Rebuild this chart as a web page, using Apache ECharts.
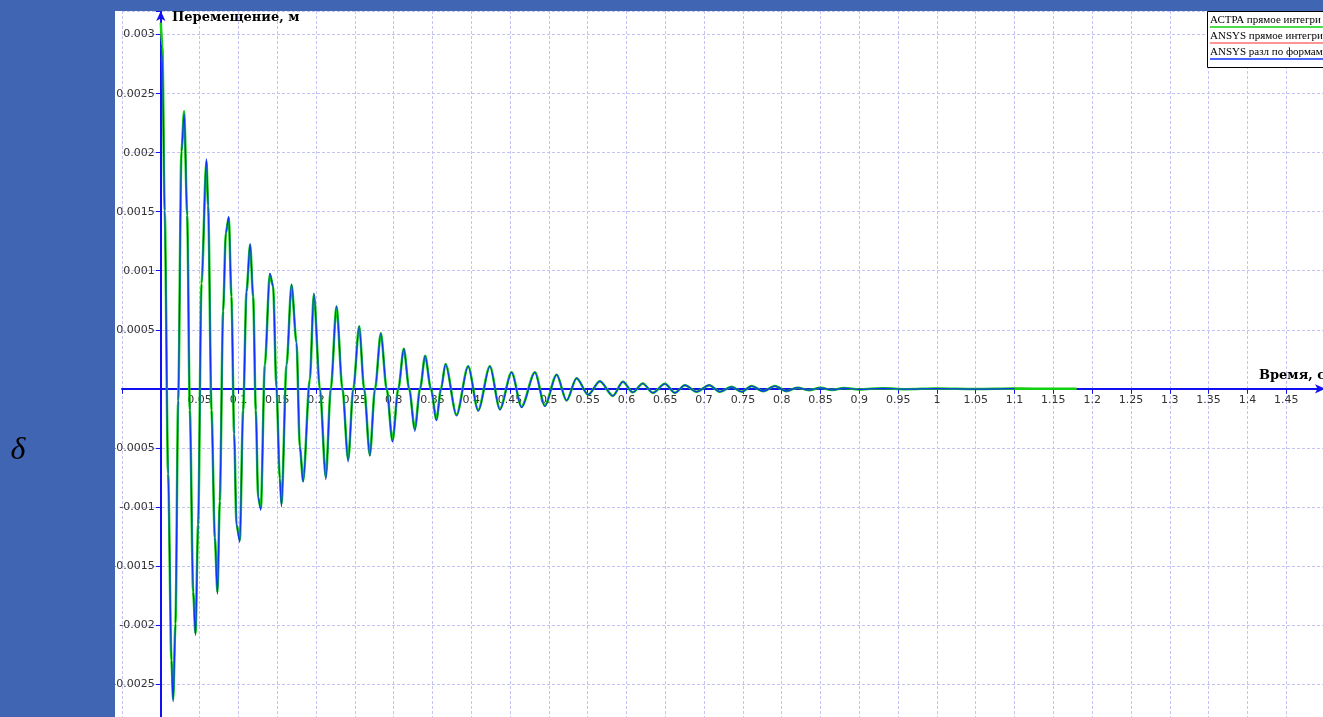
<!DOCTYPE html>
<html>
<head>
<meta charset="utf-8">
<script src="https://cdn.jsdelivr.net/npm/echarts@6/dist/echarts.min.js"></script>
<style>
html,body{margin:0;padding:0;background:#3f65b3;}
#chart{width:1323px;height:717px;}
</style>
</head>
<body>
<div id="chart"></div>
<script>
// ---- data ----
var timeS = [0,0.002,0.005,0.0094,0.0137,0.0159,0.0189,0.0224,0.0266,0.0301,0.034,0.0374,0.0417,0.0447,0.0481,0.0524,0.0588,0.061,0.0653,0.0696,0.073,0.076,0.0803,0.0838,0.0876,0.091,0.0945,0.0975,0.1018,0.1061,0.1104,0.1151,0.119,0.1224,0.1254,0.1289,0.134,0.1405,0.1447,0.149,0.1533,0.1555,0.162,0.1684,0.1749,0.1791,0.1834,0.192,0.1972,0.205,0.2126,0.219,0.2264,0.234,0.2414,0.248,0.2556,0.262,0.2693,0.276,0.2835,0.291,0.2985,0.306,0.3131,0.320,0.3273,0.334,0.3406,0.348,0.3552,0.361,0.3668,0.381,0.396,0.4089,0.424,0.4369,0.452,0.4648,0.482,0.4948,0.51,0.5228,0.5357,0.5507,0.5657,0.5825,0.5954,0.608,0.621,0.634,0.6495,0.6624,0.6753,0.6903,0.7066,0.7204,0.7354,0.7483,0.7612,0.7762,0.7912,0.8063,0.82,0.835,0.85,0.865,0.88,0.9,0.93,0.96,1.0,1.05,1.1,1.15,1.18];
var astraDirect = [0.0031,0.0029,0.00151,-0.00072,-0.0023,-0.00263,-0.00199,-0.0001,0.00201,0.00235,0.00147,-0.00018,-0.00172,-0.00207,-0.00115,0.00089,0.00193,0.00155,-0.00018,-0.00126,-0.00172,-0.00095,0.00066,0.00132,0.00145,0.00078,-0.00038,-0.00115,-0.00128,-0.00018,0.00082,0.00122,0.00078,-0.00018,-0.00092,-0.00101,0.0002,0.00097,0.00087,0.00001,-0.00076,-0.00097,0.0002,0.00088,0.00039,-0.00049,-0.00078,0.00008,0.0008,0.0,-0.00075,0.0,0.0007,0.0,-0.0006,0.0,0.00053,0.0,-0.00056,0.0,0.00047,0.0,-0.00044,0.0,0.00034,0.0,-0.00034,0.0,0.00028,0.0,-0.00026,0.0,0.00021,-0.00022,0.00019,-0.00018,0.00019,-0.00017,0.00014,-0.00015,0.00014,-0.00014,0.00012,-0.0001,0.00009,-0.00005,0.000065,-0.00006,0.00006,-0.00003,0.000045,-0.000034,0.000042,-0.000034,0.000031,-0.000025,0.000031,-0.000025,0.000017,-0.000025,0.000023,-0.00002,0.000023,-0.00002,0.00001,-0.000012,0.000008,-0.00001,0.000006,-0.000005,0.000004,-0.000003,0.000002,-0.000002,0.000002,0.0,0.0];
var ansysDirect = astraDirect.slice();
var ansysModal = [0.0029,0.0028,0.00151,-0.00072,-0.0023,-0.00265,-0.00199,-0.0001,0.00201,0.00233,0.00147,-0.00018,-0.00172,-0.00209,-0.00115,0.00089,0.00195,0.00155,-0.00018,-0.00126,-0.00174,-0.00095,0.00066,0.00132,0.00146,0.00078,-0.00038,-0.00115,-0.0013,-0.00018,0.00082,0.00123,0.00078,-0.00018,-0.00092,-0.00103,0.0002,0.00098,0.00087,0.00001,-0.00076,-0.001,0.0002,0.00089,0.00039,-0.00049,-0.00079,0.00008,0.00081,0.0,-0.00077,0.0,0.0007,0.0,-0.00062,0.0,0.00053,0.0,-0.00057,0.0,0.00047,0.0,-0.00045,0.0,0.00034,0.0,-0.00036,0.0,0.00028,0.0,-0.00027,0.0,0.00021,-0.00023,0.00019,-0.00019,0.00019,-0.00018,0.00014,-0.00016,0.00014,-0.00015,0.00012,-0.0001,0.00009,-0.00005,0.000065,-0.00006,0.00006,-0.00003,0.000045,-0.000034,0.000042,-0.000034,0.000031,-0.000025,0.000031,-0.000025,0.000017,-0.000025,0.000023,-0.00002,0.000023,-0.00002,0.00001,-0.000012,0.000008,-0.00001,0.000006,-0.000005,0.000004,-0.000003,0.000002,-0.000002,0.000002,0.0,0.0];
var seriesNames = ['АСТРА прямое интегри', 'ANSYS прямое интегри', 'ANSYS разл по формам'];
var xTickLabels = ['0.05','0.1','0.15','0.2','0.25','0.3','0.35','0.4','0.45','0.5','0.55','0.6','0.65','0.7','0.75','0.8','0.85','0.9','0.95','1','1.05','1.1','1.15','1.2','1.25','1.3','1.35','1.4','1.45'];
var yTickLabels = ['0.003','0.0025','0.002','0.0015','0.001','0.0005','-0.0005','-0.001','-0.0015','-0.002','-0.0025'];
var xAxisTitle = 'Время, с';
var yAxisTitle = 'Перемещение, м';
var sideLabel = 'δ';

function pairs(t, v) { return t.map(function (x, i) { return [x, v[i]]; }); }
function fmt(v, n) { return String(parseFloat(Number(v).toFixed(n))); }

var chart = echarts.init(document.getElementById('chart'), null, {renderer: 'canvas'});
var gridLine = {show: true, lineStyle: {color: '#c4c4f4', width: 1, type: [3, 2]}};
var axisBlue = '#1010f0';
var GL = 122, GT = 11, GW = 1203, GH = 732;
var xMin = -0.05, xMax = 1.5, yMin = -0.003, yMax = 0.0032;
var yAxisOffset = -(0 - xMin) / (xMax - xMin) * GW;
var xAxisOffset = -(0 - yMin) / (yMax - yMin) * GH;
var option = {
  backgroundColor: '#ffffff',
  animation: false,
  grid: {left: GL, top: GT, width: GW, height: GH, outerBoundsMode: 'none', containLabel: false, show: false},
  xAxis: {
    type: 'value', min: xMin, max: xMax, interval: 0.05, position: 'bottom', offset: xAxisOffset,
    axisLine: {onZero: false, lineStyle: {color: axisBlue, width: 2}, symbol: ['none', 'arrow'], symbolSize: [7, 10]},
    axisTick: {show: true, length: 5, lineStyle: {color: axisBlue, width: 1}},
    axisLabel: {margin: 6, color: '#333', fontFamily: 'DejaVu Sans', fontSize: 11, hideOverlap: false,
      formatter: function (v) { var s = fmt(v, 3); return xTickLabels.indexOf(s) >= 0 ? s : ''; }},
    splitLine: gridLine
  },
  yAxis: {
    type: 'value', min: yMin, max: yMax, interval: 0.0005, position: 'left', offset: yAxisOffset,
    axisLine: {onZero: false, lineStyle: {color: axisBlue, width: 2}, symbol: ['none', 'arrow'], symbolSize: [7, 10]},
    axisTick: {show: true, length: 5, lineStyle: {color: axisBlue, width: 1}},
    axisLabel: {margin: 6, color: '#333', fontFamily: 'DejaVu Sans', fontSize: 11, hideOverlap: false,
      formatter: function (v) { var s = fmt(v, 5); return yTickLabels.indexOf(s) >= 0 ? s : ''; }},
    splitLine: gridLine
  },
  series: [
    {name: seriesNames[1], type: 'line', data: pairs(timeS, ansysDirect), showSymbol: false, smooth: 0.3, smoothMonotone: 'x', lineStyle: {color: '#ff2020', width: 1.5}, z: 2},
    {name: seriesNames[0], type: 'line', data: pairs(timeS, astraDirect), showSymbol: false, smooth: 0.3, smoothMonotone: 'x', lineStyle: {color: '#10d010', width: 2.5}, z: 3},
    {name: seriesNames[2], type: 'line', data: pairs(timeS.slice(0, 115), ansysModal.slice(0, 115)), showSymbol: false, smooth: 0.3, smoothMonotone: 'x', lineStyle: {color: '#1030ff', width: 1.2}, z: 4}
  ],
  graphic: [
    {type: 'rect', z: 100, shape: {x: 0, y: 0, width: 115, height: 717}, style: {fill: '#3f65b3'}},
    {type: 'rect', z: 100, shape: {x: 0, y: 0, width: 1323, height: 11}, style: {fill: '#3f65b3'}},
    {type: 'text', z: 101, x: 18, y: 451, style: {text: sideLabel, font: 'italic 32px "Liberation Serif"', fill: '#000', textAlign: 'center', textVerticalAlign: 'middle'}},
    {type: 'text', z: 101, x: 172, y: 18, style: {text: yAxisTitle, font: 'bold 13px "DejaVu Serif"', fill: '#000', textAlign: 'left', textVerticalAlign: 'middle'}},
    {type: 'text', z: 101, x: 1259, y: 376, style: {text: xAxisTitle, font: 'bold 13px "DejaVu Serif"', fill: '#000', textAlign: 'left', textVerticalAlign: 'middle'}},
    {type: 'rect', z: 101, shape: {x: 1207.5, y: 11.5, width: 130, height: 56}, style: {fill: '#fff', stroke: '#000', lineWidth: 1}},
    {type: 'text', z: 102, x: 1210, y: 20, style: {text: seriesNames[0], font: '11px "Liberation Serif"', fill: '#000', textVerticalAlign: 'middle'}},
    {type: 'line', z: 102, shape: {x1: 1210, y1: 27, x2: 1323, y2: 27}, style: {stroke: '#10d010', lineWidth: 1.5}},
    {type: 'text', z: 102, x: 1210, y: 36, style: {text: seriesNames[1], font: '11px "Liberation Serif"', fill: '#000', textVerticalAlign: 'middle'}},
    {type: 'line', z: 102, shape: {x1: 1210, y1: 43, x2: 1323, y2: 43}, style: {stroke: '#ff7070', lineWidth: 1.5}},
    {type: 'text', z: 102, x: 1210, y: 52, style: {text: seriesNames[2], font: '11px "Liberation Serif"', fill: '#000', textVerticalAlign: 'middle'}},
    {type: 'line', z: 102, shape: {x1: 1210, y1: 59, x2: 1323, y2: 59}, style: {stroke: '#1030ff', lineWidth: 1.5}}
  ]
};
chart.setOption(option);
</script>
</body>
</html>
